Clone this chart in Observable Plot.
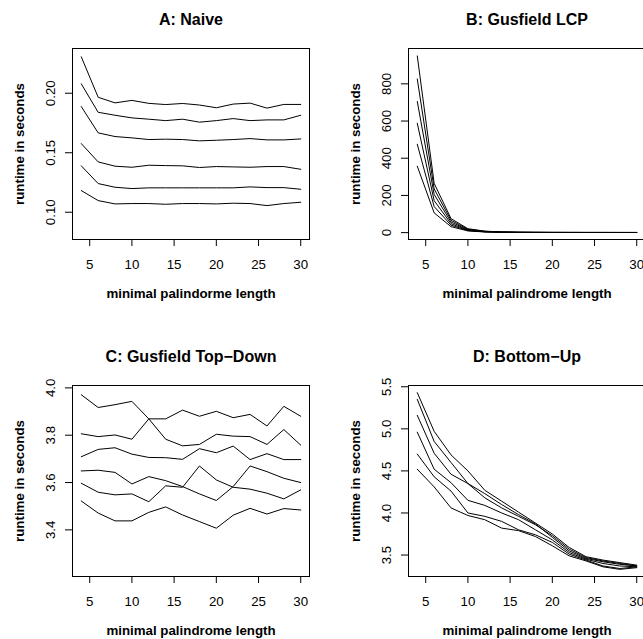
<!DOCTYPE html>
<html><head><meta charset="utf-8">
<script src="https://cdn.jsdelivr.net/npm/d3@7"></script>
<script src="https://cdn.jsdelivr.net/npm/@observablehq/plot@0.6"></script>
<style>
body{margin:0;background:#fff;}
#wrap{position:relative;width:643px;height:639px;overflow:hidden;background:#fff;}
#wrap svg{position:absolute;}
</style></head><body><div id="wrap"></div>
<script>
const lengths = [4,6,8,10,12,14,16,18,20,22,24,26,28,30];
const xTicks = [5,10,15,20,25,30];

const naiveRuns = [
  [0.2306,0.1966,0.1919,0.1940,0.1915,0.1905,0.1914,0.1901,0.1878,0.1909,0.1917,0.1875,0.1906,0.1906],
  [0.2079,0.1840,0.1815,0.1793,0.1782,0.1770,0.1782,0.1757,0.1770,0.1787,0.1770,0.1776,0.1776,0.1815],
  [0.1888,0.1667,0.1636,0.1625,0.1611,0.1614,0.1611,0.1600,0.1605,0.1611,0.1619,0.1608,0.1608,0.1616],
  [0.1577,0.1423,0.1387,0.1378,0.1395,0.1392,0.1390,0.1376,0.1384,0.1381,0.1378,0.1384,0.1384,0.1361],
  [0.1390,0.1241,0.1210,0.1199,0.1205,0.1205,0.1205,0.1205,0.1205,0.1205,0.1213,0.1207,0.1207,0.1193],
  [0.1182,0.1098,0.1070,0.1073,0.1073,0.1067,0.1073,0.1073,0.1070,0.1076,0.1073,0.1056,0.1073,0.1084]
];
const lcpRuns = [
  [950,265,75,21,8,3.5,2.0,1.5,1.2,1.1,1.0,1.0,0.9,0.9],
  [826,235,66,18,7,3.0,1.8,1.3,1.1,1.0,0.9,0.9,0.8,0.8],
  [705,205,57,15,6,2.6,1.6,1.2,1.0,0.9,0.8,0.8,0.8,0.7],
  [588,172,48,13,5,2.3,1.4,1.1,0.9,0.8,0.8,0.7,0.7,0.7],
  [475,140,40,11,4,2.0,1.2,1.0,0.8,0.7,0.7,0.7,0.6,0.6],
  [357,106,32,9,3.5,1.7,1.1,0.9,0.7,0.7,0.6,0.6,0.6,0.6]
];
const topDownRuns = [
  [3.971,3.917,3.929,3.943,3.869,3.783,3.755,3.761,3.804,3.796,3.794,3.761,3.824,3.758],
  [3.806,3.794,3.801,3.783,3.869,3.869,3.906,3.880,3.901,3.874,3.888,3.839,3.922,3.880],
  [3.709,3.740,3.747,3.720,3.706,3.705,3.698,3.743,3.726,3.754,3.697,3.722,3.697,3.697],
  [3.649,3.652,3.643,3.594,3.625,3.608,3.583,3.552,3.524,3.583,3.670,3.646,3.618,3.600],
  [3.597,3.559,3.548,3.552,3.519,3.586,3.580,3.670,3.611,3.580,3.572,3.555,3.531,3.569],
  [3.522,3.471,3.438,3.438,3.474,3.497,3.463,3.435,3.407,3.462,3.491,3.467,3.490,3.484]
];
const bottomUpRuns = [
  [5.43,4.97,4.69,4.50,4.27,4.14,4.01,3.88,3.75,3.59,3.48,3.44,3.41,3.38],
  [5.35,4.85,4.60,4.35,4.18,4.06,3.96,3.86,3.73,3.57,3.47,3.43,3.40,3.37],
  [5.16,4.71,4.46,4.35,4.23,4.10,3.98,3.87,3.71,3.55,3.46,3.42,3.39,3.37],
  [4.96,4.52,4.36,4.15,4.09,4.00,3.92,3.80,3.68,3.53,3.45,3.40,3.37,3.36],
  [4.70,4.43,4.26,4.00,3.96,3.90,3.80,3.74,3.65,3.51,3.44,3.37,3.34,3.36],
  [4.52,4.31,4.06,3.97,3.92,3.82,3.79,3.72,3.61,3.49,3.43,3.36,3.33,3.35]
];

const naiveTicks = [0.10,0.15,0.20];
const lcpTicks = [0,200,400,600,800];
const topDownTicks = [3.4,3.6,3.8,4.0];
const bottomUpTicks = [3.5,4.0,4.5,5.0,5.5];

const titles = ["A: Naive","B: Gusfield LCP","C: Gusfield Top\u2212Down","D: Bottom\u2212Up"];
const xLabels = ["minimal palindorme length","minimal palindrome length","minimal palindrome length","minimal palindrome length"];
const yLabel = "runtime in seconds";

const FONT = "'Liberation Sans', Arial, Helvetica, sans-serif";

const panels = [
  {runs: naiveRuns, ticks: naiveTicks, dom: [0.0771,0.2376], fmt: d => d.toFixed(2), left: 0, top: 0},
  {runs: lcpRuns, ticks: lcpTicks, dom: [-37,990], fmt: d => String(d), left: 336, top: 0},
  {runs: topDownRuns, ticks: topDownTicks, dom: [3.203,4.010], fmt: d => d.toFixed(1), left: 0, top: 337},
  {runs: bottomUpRuns, ticks: bottomUpTicks, dom: [3.245,5.515], fmt: d => d.toFixed(1), left: 336, top: 337}
];

const wrap = document.getElementById("wrap");
panels.forEach((p, k) => {
  const data = p.runs.flatMap((s, i) => s.map((v, j) => ({x: lengths[j], y: v, s: i})));
  const svg = Plot.plot({
    width: 336, height: 336,
    marginLeft: 72, marginRight: 27, marginTop: 48, marginBottom: 97,
    style: {fontFamily: FONT, fontSize: "13.3px", color: "#000", background: "transparent", overflow: "visible"},
    x: {domain: [2.96, 31.04], axis: null},
    y: {domain: p.dom, axis: null},
    marks: [
      Plot.line(data, {x: "x", y: "y", z: "s", stroke: "#000", strokeWidth: 1}),
      Plot.frame({stroke: "#000", strokeWidth: 1}),
      Plot.axisX(xTicks, {tickSize: 7, tickPadding: 13, label: null, fontSize: 13.3, stroke: "#000"}),
      Plot.axisY(p.ticks, {tickSize: 7, tickFormat: () => "", label: null, stroke: "#000"}),
      Plot.text(p.ticks, {y: d => d, text: p.fmt, frameAnchor: "left", rotate: -90, dx: -17.5,
        textAnchor: "middle", lineAnchor: "bottom", fontSize: 13.3, fill: "#000"}),
      Plot.text([titles[k]], {text: d => d, frameAnchor: "top", dy: -24, lineAnchor: "bottom",
        fontWeight: "bold", fontSize: 16, fill: "#000"}),
      Plot.text([xLabels[k]], {text: d => d, frameAnchor: "bottom", dy: 58.5, lineAnchor: "bottom",
        fontWeight: "bold", fontSize: 13.3, fill: "#000"}),
      Plot.text([yLabel], {text: d => d, frameAnchor: "left", dx: -49, rotate: -90, textAnchor: "middle",
        lineAnchor: "bottom", fontWeight: "bold", fontSize: 13.3, fill: "#000"})
    ]
  });
  svg.style.left = p.left + "px";
  svg.style.top = p.top + "px";
  wrap.appendChild(svg);
});
</script>
</body></html>
